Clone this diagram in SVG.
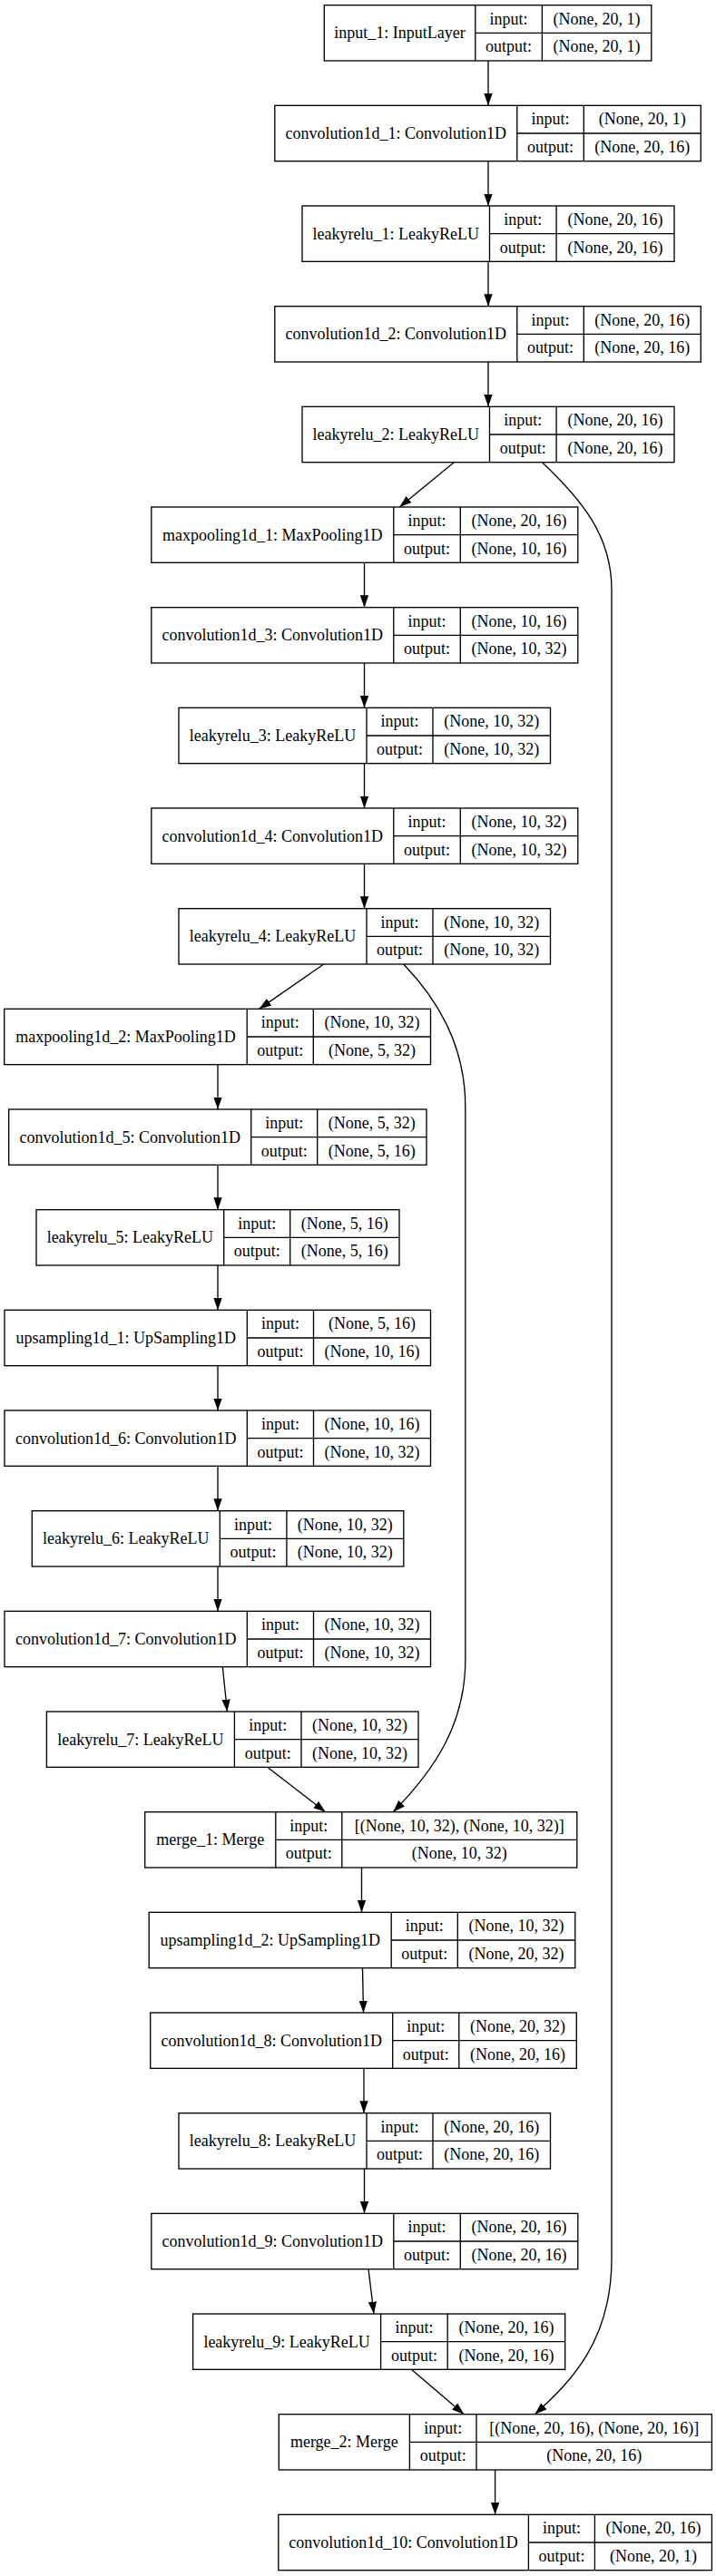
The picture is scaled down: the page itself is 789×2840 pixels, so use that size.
<svg xmlns="http://www.w3.org/2000/svg" width="789" height="2840" viewBox="0 0 789 2840">
<style>
text{font-family:"Liberation Serif","Times New Roman",serif;font-size:18px;fill:#000;text-anchor:middle}
.n rect{fill:#fff;stroke:#000;stroke-width:1.33}
.n path{fill:none;stroke:#000;stroke-width:1.33}
#edges path{fill:none;stroke:#000;stroke-width:1.33;marker-end:url(#arr)}
</style>
<defs>
<marker id="arr" markerWidth="14" markerHeight="10" refX="13.33" refY="4.67" orient="auto" markerUnits="userSpaceOnUse"><path d="M0 0L13.33 4.67L0 9.33Z" fill="#000"/></marker>
</defs>
<rect width="789" height="2840" fill="#fff"/>
<g id="edges">
<path d="M538 67V116.33"/>
<path d="M538 177.67V227"/>
<path d="M538 288.33V337.67"/>
<path d="M538 399V448.33"/>
<path d="M500.3 509.67L440.3 559"/>
<path d="M597.5 509.67C640 550 674 590 674 650V2490C674 2580 630 2625 589.4 2661.67"/>
<path d="M401.5 620.33V669.67"/>
<path d="M401.5 731V780.33"/>
<path d="M401.5 841.67V891"/>
<path d="M401.5 952.33V1001.67"/>
<path d="M356.7 1063L285.6 1112.33"/>
<path d="M444.8 1063C480 1100 512.8 1150 512.8 1220V1830C512.8 1900 480 1950 433.2 1997.67"/>
<path d="M240 1173.67V1223"/>
<path d="M240 1284.33V1333.67"/>
<path d="M240 1395V1444.33"/>
<path d="M240 1505.67V1555"/>
<path d="M240 1616.33V1665.67"/>
<path d="M240 1727V1776.33"/>
<path d="M245.3 1837.67L250.4 1887"/>
<path d="M294.7 1948.33L358.7 1997.67"/>
<path d="M398.5 2059V2108.33"/>
<path d="M399.5 2169.67L400.5 2219"/>
<path d="M401 2280.33V2329.67"/>
<path d="M401.5 2391V2440.33"/>
<path d="M406 2501.67L412 2551"/>
<path d="M453.4 2612.33L511.3 2661.67"/>
<path d="M545.6 2723V2772.33"/>
</g>
<g id="input_1" class="n" transform="translate(0,5.67)">
<rect x="357.3" y="0" width="360.5" height="61.33"/><path d="M523.8 0V61.33M597.4 0V61.33M523.8 30.67H717.8"/>
<text x="440.55" y="36.5">input_1: InputLayer</text><text x="560.6" y="21">input:</text><text x="560.6" y="51.7">output:</text>
<text x="657.6" y="21">(None, 20, 1)</text><text x="657.6" y="51.7">(None, 20, 1)</text>
</g>
<g id="convolution1d_1" class="n" transform="translate(0,116.33)">
<rect x="302.8" y="0" width="469.5" height="61.33"/><path d="M569.8 0V61.33M643.3 0V61.33M569.8 30.67H772.3"/>
<text x="436.3" y="36.5">convolution1d_1: Convolution1D</text><text x="606.55" y="21">input:</text><text x="606.55" y="51.7">output:</text>
<text x="707.8" y="21">(None, 20, 1)</text><text x="707.8" y="51.7">(None, 20, 16)</text>
</g>
<g id="leakyrelu_1" class="n" transform="translate(0,227)">
<rect x="333" y="0" width="410" height="61.33"/><path d="M539.5 0V61.33M613.1 0V61.33M539.5 30.67H743"/>
<text x="436.25" y="36.5">leakyrelu_1: LeakyReLU</text><text x="576.3" y="21">input:</text><text x="576.3" y="51.7">output:</text>
<text x="678.05" y="21">(None, 20, 16)</text><text x="678.05" y="51.7">(None, 20, 16)</text>
</g>
<g id="convolution1d_2" class="n" transform="translate(0,337.67)">
<rect x="302.8" y="0" width="469.5" height="61.33"/><path d="M569.8 0V61.33M643.3 0V61.33M569.8 30.67H772.3"/>
<text x="436.3" y="36.5">convolution1d_2: Convolution1D</text><text x="606.55" y="21">input:</text><text x="606.55" y="51.7">output:</text>
<text x="707.8" y="21">(None, 20, 16)</text><text x="707.8" y="51.7">(None, 20, 16)</text>
</g>
<g id="leakyrelu_2" class="n" transform="translate(0,448.33)">
<rect x="333" y="0" width="410" height="61.33"/><path d="M539.5 0V61.33M613.1 0V61.33M539.5 30.67H743"/>
<text x="436.25" y="36.5">leakyrelu_2: LeakyReLU</text><text x="576.3" y="21">input:</text><text x="576.3" y="51.7">output:</text>
<text x="678.05" y="21">(None, 20, 16)</text><text x="678.05" y="51.7">(None, 20, 16)</text>
</g>
<g id="maxpooling1d_1" class="n" transform="translate(0,559)">
<rect x="166.8" y="0" width="470" height="61.33"/><path d="M433.8 0V61.33M507.3 0V61.33M433.8 30.67H636.8"/>
<text x="300.3" y="36.5">maxpooling1d_1: MaxPooling1D</text><text x="470.55" y="21">input:</text><text x="470.55" y="51.7">output:</text>
<text x="572.05" y="21">(None, 20, 16)</text><text x="572.05" y="51.7">(None, 10, 16)</text>
</g>
<g id="convolution1d_3" class="n" transform="translate(0,669.67)">
<rect x="166.8" y="0" width="470" height="61.33"/><path d="M433.8 0V61.33M507.3 0V61.33M433.8 30.67H636.8"/>
<text x="300.3" y="36.5">convolution1d_3: Convolution1D</text><text x="470.55" y="21">input:</text><text x="470.55" y="51.7">output:</text>
<text x="572.05" y="21">(None, 10, 16)</text><text x="572.05" y="51.7">(None, 10, 32)</text>
</g>
<g id="leakyrelu_3" class="n" transform="translate(0,780.33)">
<rect x="197" y="0" width="409.5" height="61.33"/><path d="M404 0V61.33M477 0V61.33M404 30.67H606.5"/>
<text x="300.5" y="36.5">leakyrelu_3: LeakyReLU</text><text x="440.5" y="21">input:</text><text x="440.5" y="51.7">output:</text>
<text x="541.75" y="21">(None, 10, 32)</text><text x="541.75" y="51.7">(None, 10, 32)</text>
</g>
<g id="convolution1d_4" class="n" transform="translate(0,891)">
<rect x="166.8" y="0" width="470" height="61.33"/><path d="M433.8 0V61.33M507.3 0V61.33M433.8 30.67H636.8"/>
<text x="300.3" y="36.5">convolution1d_4: Convolution1D</text><text x="470.55" y="21">input:</text><text x="470.55" y="51.7">output:</text>
<text x="572.05" y="21">(None, 10, 32)</text><text x="572.05" y="51.7">(None, 10, 32)</text>
</g>
<g id="leakyrelu_4" class="n" transform="translate(0,1001.67)">
<rect x="197" y="0" width="409.5" height="61.33"/><path d="M404 0V61.33M477 0V61.33M404 30.67H606.5"/>
<text x="300.5" y="36.5">leakyrelu_4: LeakyReLU</text><text x="440.5" y="21">input:</text><text x="440.5" y="51.7">output:</text>
<text x="541.75" y="21">(None, 10, 32)</text><text x="541.75" y="51.7">(None, 10, 32)</text>
</g>
<g id="maxpooling1d_2" class="n" transform="translate(0,1112.33)">
<rect x="4.7" y="0" width="469.8" height="61.33"/><path d="M272.2 0V61.33M345.3 0V61.33M272.2 30.67H474.5"/>
<text x="138.45" y="36.5">maxpooling1d_2: MaxPooling1D</text><text x="308.75" y="21">input:</text><text x="308.75" y="51.7">output:</text>
<text x="409.9" y="21">(None, 10, 32)</text><text x="409.9" y="51.7">(None, 5, 32)</text>
</g>
<g id="convolution1d_5" class="n" transform="translate(0,1223)">
<rect x="9.7" y="0" width="460.3" height="61.33"/><path d="M276.7 0V61.33M349.7 0V61.33M276.7 30.67H470"/>
<text x="143.2" y="36.5">convolution1d_5: Convolution1D</text><text x="313.2" y="21">input:</text><text x="313.2" y="51.7">output:</text>
<text x="409.85" y="21">(None, 5, 32)</text><text x="409.85" y="51.7">(None, 5, 16)</text>
</g>
<g id="leakyrelu_5" class="n" transform="translate(0,1333.67)">
<rect x="40" y="0" width="400" height="61.33"/><path d="M246.7 0V61.33M319.7 0V61.33M246.7 30.67H440"/>
<text x="143.35" y="36.5">leakyrelu_5: LeakyReLU</text><text x="283.2" y="21">input:</text><text x="283.2" y="51.7">output:</text>
<text x="379.85" y="21">(None, 5, 16)</text><text x="379.85" y="51.7">(None, 5, 16)</text>
</g>
<g id="upsampling1d_1" class="n" transform="translate(0,1444.33)">
<rect x="5" y="0" width="469.5" height="61.33"/><path d="M272.3 0V61.33M345.5 0V61.33M272.3 30.67H474.5"/>
<text x="138.65" y="36.5">upsampling1d_1: UpSampling1D</text><text x="308.9" y="21">input:</text><text x="308.9" y="51.7">output:</text>
<text x="410" y="21">(None, 5, 16)</text><text x="410" y="51.7">(None, 10, 16)</text>
</g>
<g id="convolution1d_6" class="n" transform="translate(0,1555)">
<rect x="5" y="0" width="469.5" height="61.33"/><path d="M272.3 0V61.33M345.5 0V61.33M272.3 30.67H474.5"/>
<text x="138.65" y="36.5">convolution1d_6: Convolution1D</text><text x="308.9" y="21">input:</text><text x="308.9" y="51.7">output:</text>
<text x="410" y="21">(None, 10, 16)</text><text x="410" y="51.7">(None, 10, 32)</text>
</g>
<g id="leakyrelu_6" class="n" transform="translate(0,1665.67)">
<rect x="35.3" y="0" width="409.5" height="61.33"/><path d="M242.3 0V61.33M315.9 0V61.33M242.3 30.67H444.8"/>
<text x="138.8" y="36.5">leakyrelu_6: LeakyReLU</text><text x="279.1" y="21">input:</text><text x="279.1" y="51.7">output:</text>
<text x="380.35" y="21">(None, 10, 32)</text><text x="380.35" y="51.7">(None, 10, 32)</text>
</g>
<g id="convolution1d_7" class="n" transform="translate(0,1776.33)">
<rect x="5" y="0" width="469.5" height="61.33"/><path d="M272.3 0V61.33M345.5 0V61.33M272.3 30.67H474.5"/>
<text x="138.65" y="36.5">convolution1d_7: Convolution1D</text><text x="308.9" y="21">input:</text><text x="308.9" y="51.7">output:</text>
<text x="410" y="21">(None, 10, 32)</text><text x="410" y="51.7">(None, 10, 32)</text>
</g>
<g id="leakyrelu_7" class="n" transform="translate(0,1887)">
<rect x="51.4" y="0" width="409.6" height="61.33"/><path d="M258.4 0V61.33M332 0V61.33M258.4 30.67H461"/>
<text x="154.9" y="36.5">leakyrelu_7: LeakyReLU</text><text x="295.2" y="21">input:</text><text x="295.2" y="51.7">output:</text>
<text x="396.5" y="21">(None, 10, 32)</text><text x="396.5" y="51.7">(None, 10, 32)</text>
</g>
<g id="merge_1" class="n" transform="translate(0,1997.67)">
<rect x="159.7" y="0" width="476.1" height="61.33"/><path d="M303.8 0V61.33M376.8 0V61.33M303.8 30.67H635.8"/>
<text x="231.75" y="36.5">merge_1: Merge</text><text x="340.3" y="21">input:</text><text x="340.3" y="51.7">output:</text>
<text x="506.3" y="21">[(None, 10, 32), (None, 10, 32)]</text><text x="506.3" y="51.7">(None, 10, 32)</text>
</g>
<g id="upsampling1d_2" class="n" transform="translate(0,2108.33)">
<rect x="164.2" y="0" width="469.6" height="61.33"/><path d="M431.2 0V61.33M504.3 0V61.33M431.2 30.67H633.8"/>
<text x="297.7" y="36.5">upsampling1d_2: UpSampling1D</text><text x="467.75" y="21">input:</text><text x="467.75" y="51.7">output:</text>
<text x="569.05" y="21">(None, 10, 32)</text><text x="569.05" y="51.7">(None, 20, 32)</text>
</g>
<g id="convolution1d_8" class="n" transform="translate(0,2219)">
<rect x="165.7" y="0" width="469.6" height="61.33"/><path d="M432.7 0V61.33M505.8 0V61.33M432.7 30.67H635.3"/>
<text x="299.2" y="36.5">convolution1d_8: Convolution1D</text><text x="469.25" y="21">input:</text><text x="469.25" y="51.7">output:</text>
<text x="570.55" y="21">(None, 20, 32)</text><text x="570.55" y="51.7">(None, 20, 16)</text>
</g>
<g id="leakyrelu_8" class="n" transform="translate(0,2329.67)">
<rect x="197" y="0" width="409.5" height="61.33"/><path d="M404 0V61.33M477 0V61.33M404 30.67H606.5"/>
<text x="300.5" y="36.5">leakyrelu_8: LeakyReLU</text><text x="440.5" y="21">input:</text><text x="440.5" y="51.7">output:</text>
<text x="541.75" y="21">(None, 20, 16)</text><text x="541.75" y="51.7">(None, 20, 16)</text>
</g>
<g id="convolution1d_9" class="n" transform="translate(0,2440.33)">
<rect x="166.8" y="0" width="470" height="61.33"/><path d="M433.8 0V61.33M507.3 0V61.33M433.8 30.67H636.8"/>
<text x="300.3" y="36.5">convolution1d_9: Convolution1D</text><text x="470.55" y="21">input:</text><text x="470.55" y="51.7">output:</text>
<text x="572.05" y="21">(None, 20, 16)</text><text x="572.05" y="51.7">(None, 20, 16)</text>
</g>
<g id="leakyrelu_9" class="n" transform="translate(0,2551)">
<rect x="212.6" y="0" width="410.1" height="61.33"/><path d="M419.6 0V61.33M493.2 0V61.33M419.6 30.67H622.7"/>
<text x="316.1" y="36.5">leakyrelu_9: LeakyReLU</text><text x="456.4" y="21">input:</text><text x="456.4" y="51.7">output:</text>
<text x="557.95" y="21">(None, 20, 16)</text><text x="557.95" y="51.7">(None, 20, 16)</text>
</g>
<g id="merge_2" class="n" transform="translate(0,2661.67)">
<rect x="307.3" y="0" width="477.1" height="61.33"/><path d="M451.4 0V61.33M525 0V61.33M451.4 30.67H784.4"/>
<text x="379.35" y="36.5">merge_2: Merge</text><text x="488.2" y="21">input:</text><text x="488.2" y="51.7">output:</text>
<text x="654.7" y="21">[(None, 20, 16), (None, 20, 16)]</text><text x="654.7" y="51.7">(None, 20, 16)</text>
</g>
<g id="convolution1d_10" class="n" transform="translate(0,2772.33)">
<rect x="306.8" y="0" width="477.6" height="61.33"/><path d="M582.4 0V61.33M655.4 0V61.33M582.4 30.67H784.4"/>
<text x="444.6" y="36.5">convolution1d_10: Convolution1D</text><text x="618.9" y="21">input:</text><text x="618.9" y="51.7">output:</text>
<text x="719.9" y="21">(None, 20, 16)</text><text x="719.9" y="51.7">(None, 20, 1)</text>
</g>
</svg>
